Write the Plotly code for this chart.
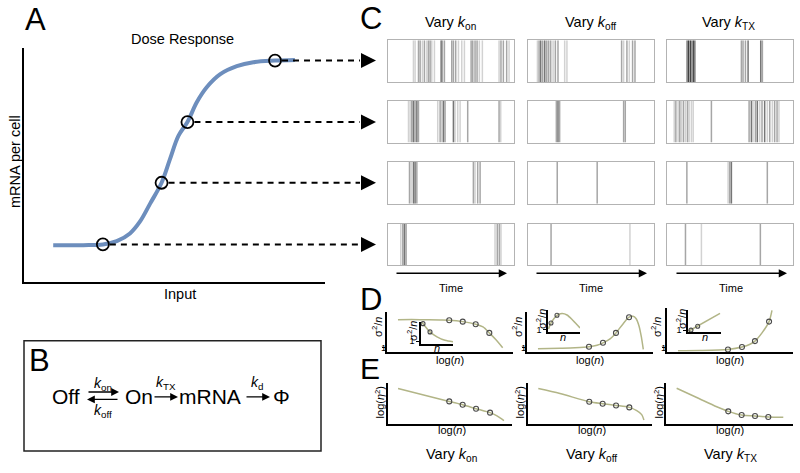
import plotly.graph_objects as go

W, H = 800, 473
FONT = "Arial, Liberation Sans, sans-serif"

# ---------------- Data ----------------
# Panel A: dose response (Input vs mRNA per cell), arbitrary units 0-10
dose_input = [0.97, 1.97, 2.62, 3.08, 3.52, 3.85, 4.19, 4.57, 4.85, 5.13, 5.43, 5.74, 6.07, 6.51, 7.07, 7.62, 8.34, 9.0]
dose_mrna = [1.58, 1.58, 1.61, 1.75, 2.08, 2.58, 3.35, 4.24, 5.25, 6.24, 6.83, 7.67, 8.31, 8.86, 9.21, 9.38, 9.45, 9.48]
sample_input = [2.62, 4.57, 5.43, 8.34]
sample_mrna = [1.61, 4.24, 6.83, 9.45]

# Panel C: transcription burst times (fraction of time window) by grey shade
raster_kon_1 = {"light": [0.205, 0.218, 0.276, 0.311, 0.35, 0.371, 0.561, 0.587, 0.608, 0.726, 0.75, 0.882, 0.961],
                "mid": [0.245, 0.258, 0.292, 0.324, 0.337, 0.434, 0.45, 0.508, 0.521, 0.539, 0.661, 0.674, 0.692, 0.708, 0.897, 0.916, 0.942],
                "dark": [0.424]}
raster_koff_1 = {"light": [0.079, 0.203, 0.295, 0.313, 0.763, 0.808],
                 "mid": [0.092, 0.121, 0.153, 0.168, 0.184, 0.221, 0.242, 0.747, 0.789, 0.834, 0.853],
                 "dark": [0.105, 0.137]}
raster_ktx_1 = {"mid": [0.592, 0.605, 0.624, 0.758],
                "dark": [0.163, 0.224, 0.645, 0.745],
                "black": [0.176, 0.192, 0.211]}
raster_kon_2 = {"light": [0.166, 0.179, 0.397, 0.429, 0.534, 0.555, 0.574, 0.895],
                "mid": [0.192, 0.218, 0.245, 0.416, 0.455, 0.634, 0.882],
                "dark": [0.205, 0.232, 0.442, 0.521]}
raster_koff_2 = {"mid": [0.229, 0.255, 0.763, 0.776],
                 "dark": [0.242]}
raster_ktx_2 = {"light": [0.061, 0.092, 0.118, 0.15, 0.179, 0.197, 0.211, 0.684, 0.737, 0.797, 0.837, 0.889],
                "mid": [0.074, 0.105, 0.134, 0.166, 0.355, 0.653, 0.703, 0.755, 0.816, 0.855, 0.874],
                "dark": [0.671, 0.718, 0.776]}
raster_kon_3 = {"light": [0.187, 0.692],
                "mid": [0.174, 0.232, 0.679, 0.713, 0.732],
                "dark": [0.205, 0.218]}
raster_koff_3 = {"mid": [0.236, 0.553]}
raster_ktx_3 = {"light": [0.487], "mid": [0.161, 0.5, 0.797], "dark": [0.513]}
raster_kon_4 = {"light": [0.105, 0.85, 0.897],
                "mid": [0.121, 0.147, 0.868, 0.884],
                "dark": [0.134]}
raster_koff_4 = {"mid": [0.187], "light": [0.813]}
raster_ktx_4 = {"mid": [0.15, 0.742], "light": [0.276]}

# Panel D: sigma^2/n vs log(n) (main) and vs n (inset)
d_kon_logn = [0.87, 2.62, 4.21, 4.94, 6.01, 7.04, 7.62, 8.12, 8.65, 9.18]
d_kon_var = [8.08, 8.08, 8.0, 7.93, 7.58, 6.93, 6.25, 4.75, 3.0, 1.0]
d_kon_pts_x = [4.94, 6.01, 7.04, 8.12]
d_kon_pts_y = [7.93, 7.58, 6.93, 4.75]
d_koff_logn = [0.87, 2.62, 3.81, 4.92, 5.56, 6.03, 6.59, 7.06, 7.62, 8.1, 8.41, 8.65, 8.89, 9.09, 9.23]
d_koff_var = [0.75, 0.88, 1.0, 1.25, 1.63, 2.25, 3.25, 4.75, 7.0, 8.7, 8.93, 8.38, 6.5, 3.5, 0.58]
d_koff_pts_x = [4.92, 6.03, 7.06, 8.1]
d_koff_pts_y = [1.25, 2.25, 4.75, 8.7]
d_ktx_logn = [0.87, 2.62, 4.84, 5.95, 6.59, 6.98, 7.54, 8.1, 8.33]
d_ktx_var = [0.25, 0.3, 0.58, 1.18, 1.88, 2.68, 4.75, 7.58, 10.4]
d_ktx_pts_x = [4.84, 5.95, 6.98, 8.1]
d_ktx_pts_y = [0.58, 1.18, 2.68, 7.58]

inset_kon_n = [0.31, 0.63, 2.81, 5.0, 7.5, 10.0]
inset_kon_var = [9.77, 9.23, 5.45, 3.18, 1.59, 0.91]
inset_kon_pts_x = [0.63, 2.81]
inset_kon_pts_y = [9.23, 5.45]
inset_koff_n = [0.16, 0.94, 2.81, 4.38, 5.94, 7.81, 10.0]
inset_koff_var = [1.36, 4.09, 7.59, 8.41, 7.73, 5.23, 1.82]
inset_koff_pts_x = [0.94, 2.81]
inset_koff_pts_y = [4.09, 7.59]
inset_ktx_n = [0.1, 9.7]
inset_ktx_var = [0.0, 8.45]
inset_ktx_pts_x = [0.9, 2.94]
inset_ktx_pts_y = [0.55, 2.35]

# Panel E: log(eta^2) vs log(n)
e_kon_logn = [0.81, 4.94, 6.02, 7.1, 8.23, 8.79, 9.35]
e_kon_eta = [8.57, 5.48, 4.69, 3.74, 2.79, 2.02, 0.88]
e_kon_pts_x = [4.94, 6.02, 7.1, 8.23]
e_kon_pts_y = [5.48, 4.69, 3.74, 2.79]
e_koff_logn = [0.83, 2.58, 4.94, 6.02, 7.1, 8.17, 8.77, 9.17, 9.35]
e_koff_eta = [8.57, 7.38, 5.4, 4.93, 4.52, 4.05, 3.26, 2.31, 1.02]
e_koff_pts_x = [4.94, 6.02, 7.1, 8.17]
e_koff_pts_y = [5.4, 4.93, 4.52, 4.05]
e_ktx_logn = [0.86, 2.48, 4.09, 5.02, 6.1, 7.18, 8.25, 9.46]
e_ktx_eta = [8.64, 6.43, 4.21, 3.1, 2.21, 1.98, 1.74, 1.67]
e_ktx_pts_x = [5.02, 6.1, 7.18, 8.25]
e_ktx_pts_y = [3.1, 2.21, 1.98, 1.74]

# ---------------- Styling ----------------
SHADES = {"light": "#d2d2d2", "mid": "#a6a6a6", "dark": "#767676", "black": "#404040"}
BLUE = "#6d8ebd"
OLIVE = "#b2b587"
PT = "#4a4a4a"

fig = go.Figure()
layout_axes = {}
counter = [0]


def px(x):
    return x / W


def py(y):
    return 1 - y / H


def make_axes(xpx, ypx, xr, yr, style, lw=2, ytick=None, tickfont=10, ticklabel=True):
    counter[0] += 1
    i = counter[0]
    s = "" if i == 1 else str(i)
    common = dict(showgrid=False, zeroline=False, showticklabels=False, ticks="", fixedrange=True)
    xa = dict(common, domain=[px(xpx[0]), px(xpx[1])], range=xr, anchor="y" + s)
    ya = dict(common, domain=[py(ypx[1]), py(ypx[0])], range=yr, anchor="x" + s)
    if style == "box":
        for a in (xa, ya):
            a.update(showline=True, mirror=True, linecolor="#b3b3b3", linewidth=1)
    elif style == "L":
        for a in (xa, ya):
            a.update(showline=True, mirror=False, linecolor="black", linewidth=lw)
    if ytick is not None:
        ya.update(tickmode="array", tickvals=[ytick], ticktext=["1"], showticklabels=ticklabel,
                  ticks="outside", ticklen=3, tickwidth=1.2, tickcolor="black",
                  tickfont=dict(size=tickfont, family=FONT, color="black"))
    layout_axes["xaxis" + s] = xa
    layout_axes["yaxis" + s] = ya
    return "x" + s, "y" + s


annotations = []
shapes = []


def text(t, x, y, size, angle=0, **kw):
    annotations.append(dict(text=t, x=px(x), y=py(y), xref="paper", yref="paper", showarrow=False,
                            font=dict(size=size, family=FONT, color="black"), textangle=angle,
                            xanchor="center", yanchor="middle", **kw))


def arrow(x_head, y_head, ax, width=1.5, size=1.0, yref="paper"):
    annotations.append(dict(text="", x=px(x_head), y=(py(y_head) if yref == "paper" else y_head),
                            xref="paper", yref=yref, showarrow=True, ax=ax, ay=0,
                            arrowhead=2, arrowsize=size, arrowwidth=width, arrowcolor="black"))


# ---------------- Panel A ----------------
A_X = (24, 325)
xA, yA = make_axes(A_X, (48, 284), [0, 10], [0, 10], "L", lw=1.5)
fig.add_trace(go.Scatter(x=dose_input, y=dose_mrna, xaxis=xA, yaxis=yA, mode="lines",
                         line=dict(color=BLUE, width=4, shape="spline", smoothing=1.0), hoverinfo="skip"))
fig.add_trace(go.Scatter(x=sample_input, y=sample_mrna, xaxis=xA, yaxis=yA, mode="markers", cliponaxis=False,
                         marker=dict(symbol="circle-open", size=12, color="black", line=dict(width=1.8)),
                         hoverinfo="skip"))
for sx, sy in zip(sample_input, sample_mrna):
    cx = A_X[0] + sx / 10 * (A_X[1] - A_X[0])
    shapes.append(dict(type="line", xref="paper", yref=yA, x0=px(cx + 7), x1=px(360), y0=sy, y1=sy,
                       line=dict(color="black", width=2, dash="6px,5px")))
    arrow(376, sy, -16, width=2, size=1.5, yref=yA)

text("A", 35, 20, 31)
text("Dose Response", 182, 39, 14.5)
text("mRNA per cell", 15, 163, 14.5, angle=-90)
text("Input", 180, 296, 14.5)

# ---------------- Panel B ----------------
shapes.append(dict(type="rect", xref="paper", yref="paper", x0=px(24), x1=px(321), y0=py(454), y1=py(343),
                   line=dict(color="#222222", width=1.5)))
text("B", 39.5, 363, 31)
text("Off", 66, 399, 21)
text("On", 138.5, 399, 21)
text("mRNA", 210, 399, 21)
text("Φ", 281, 399, 21)
text("<i>k</i><sub>on</sub>", 103, 386, 14)
text("<i>k</i><sub>off</sub>", 103, 414, 14)
text("<i>k</i><sub>TX</sub>", 166, 385, 14)
text("<i>k</i><sub>d</sub>", 257, 385, 14)
arrow(119, 394.5, -32, width=1.3, size=1.2)
arrow(87, 402, 32, width=1.3, size=1.2)
arrow(178, 399.5, -25, width=1.3, size=1.2)
arrow(270, 399.5, -25, width=1.3, size=1.2)

# ---------------- Panel C ----------------
raster_grid = [[raster_kon_1, raster_koff_1, raster_ktx_1],
               [raster_kon_2, raster_koff_2, raster_ktx_2],
               [raster_kon_3, raster_koff_3, raster_ktx_3],
               [raster_kon_4, raster_koff_4, raster_ktx_4]]
col_px = [(387.5, 514), (527.5, 653.5), (666.5, 793)]
row_px = [(40.5, 82.5), (101.5, 143.5), (163, 205), (225, 267)]
for r, row in enumerate(raster_grid):
    for c, box in enumerate(row):
        xa, ya = make_axes(col_px[c], row_px[r], [0, 1], [0, 1], "box")
        for shade in ["light", "mid", "dark", "black"]:
            times = box.get(shade, [])
            if not times:
                continue
            xs, ys = [], []
            for t in times:
                xs += [t, t, None]
                ys += [0, 1, None]
            fig.add_trace(go.Scatter(x=xs, y=ys, xaxis=xa, yaxis=ya, mode="lines",
                                     line=dict(color=SHADES[shade], width=1.5), hoverinfo="skip"))

text("C", 371, 19, 31)
titles = ["Vary <i>k</i><sub>on</sub>", "Vary <i>k</i><sub>off</sub>", "Vary <i>k</i><sub>TX</sub>"]
for c, xc in enumerate([450, 590, 728]):
    text(titles[c], xc, 23, 14.5)
for xh, xt in [(507, 451), (647, 591), (787, 731)]:
    arrow(xh, 275, -112, width=1.5, size=1.1)
    text("Time", xt, 290, 11)

# ---------------- Panel D ----------------
text("D", 371, 301, 31)


def curve(xa, ya, xs, ys, pxs, pys, msize=5):
    fig.add_trace(go.Scatter(x=xs, y=ys, xaxis=xa, yaxis=ya, mode="lines",
                             line=dict(color=OLIVE, width=1.5, shape="spline", smoothing=0.8), hoverinfo="skip"))
    fig.add_trace(go.Scatter(x=pxs, y=pys, xaxis=xa, yaxis=ya, mode="markers", cliponaxis=False,
                             marker=dict(symbol="circle-open", size=msize, color=PT, line=dict(width=1.1)),
                             hoverinfo="skip"))


xa, ya = make_axes((387, 513), (314, 354), [0, 10], [0, 10], "L", ytick=1, ticklabel=False)
curve(xa, ya, d_kon_logn, d_kon_var, d_kon_pts_x, d_kon_pts_y)
xa, ya = make_axes((421, 453), (324, 346), [0, 10], [0, 10], "L", lw=1.5, ytick=1.2, tickfont=9)
curve(xa, ya, inset_kon_n, inset_kon_var, inset_kon_pts_x, inset_kon_pts_y, msize=4)

xa, ya = make_axes((527, 653), (314, 354), [0, 10], [0, 10], "L", ytick=1, ticklabel=False)
curve(xa, ya, d_koff_logn, d_koff_var, d_koff_pts_x, d_koff_pts_y)
xa, ya = make_axes((548, 580), (312, 334), [0, 10], [0, 10], "L", lw=1.5, ytick=1.1, tickfont=9)
curve(xa, ya, inset_koff_n, inset_koff_var, inset_koff_pts_x, inset_koff_pts_y, msize=4)

xa, ya = make_axes((667, 793), (310, 354), [0, 10], [0, 11], "L", ytick=1, ticklabel=False)
curve(xa, ya, d_ktx_logn, d_ktx_var, d_ktx_pts_x, d_ktx_pts_y)
xa, ya = make_axes((688, 721), (312, 334), [0, 10], [-0.3, 10], "L", lw=1.5, ytick=0.5, tickfont=9)
curve(xa, ya, inset_ktx_n, inset_ktx_var, inset_ktx_pts_x, inset_ktx_pts_y, msize=4)

SIG = "σ<sup>2</sup>/<i>n</i>"
for xm, xi, yi, xn, yn, xl in [(377, 412, 333, 437, 350, 450), (517, 541, 321, 563, 339, 590),
                                (656, 681, 321, 705, 339, 730)]:
    text(SIG, xm, 329, 11, angle=-90)
    text(SIG, xi, yi, 11, angle=-90)
    text("<i>n</i>", xn, yn, 11)
    text("log(<i>n</i>)", xl, 362, 11)
for xt in [383, 523, 663]:
    text("1", xt, 349.5, 9.5)

# ---------------- Panel E ----------------
text("E", 370, 371, 30)
xa, ya = make_axes((388, 512), (385, 427), [0, 10], [0, 10], "L")
curve(xa, ya, e_kon_logn, e_kon_eta, e_kon_pts_x, e_kon_pts_y)
xa, ya = make_axes((528, 652), (385, 427), [0, 10], [0, 10], "L")
curve(xa, ya, e_koff_logn, e_koff_eta, e_koff_pts_x, e_koff_pts_y)
xa, ya = make_axes((666, 793), (385, 427), [0, 127 / 12.4], [0, 10], "L")
curve(xa, ya, e_ktx_logn, e_ktx_eta, e_ktx_pts_x, e_ktx_pts_y)

ETA = "log(<i>η</i><sup>2</sup>)"
for xm, xl in [(380, 452), (520, 592), (659, 730)]:
    text(ETA, xm, 405, 11, angle=-90)
    text("log(<i>n</i>)", xl, 433, 11)
for c, xc in enumerate([451, 591, 730]):
    text(titles[c], xc, 458, 14.5)

fig.update_layout(width=W, height=H, margin=dict(l=0, r=0, t=0, b=0), showlegend=False,
                  paper_bgcolor="white", plot_bgcolor="rgba(0,0,0,0)",
                  annotations=annotations, shapes=shapes, **layout_axes)
fig.write_html("out.html", config={"displayModeBar": False},
               post_script="document.body.style.margin='0px';document.body.style.padding='0px';")
